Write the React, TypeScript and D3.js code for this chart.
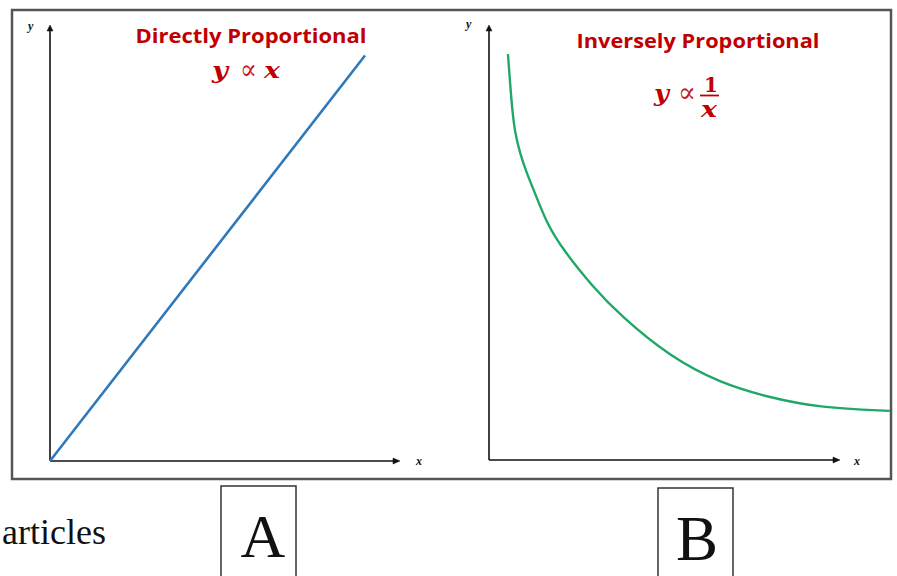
import React from 'react';
import * as d3 from 'd3';

// values (both panels use a 0..100 unit space)
const directX = [0, 90];
const directY = [0, 93];

const inverseX = [5.4, 6.5, 7.4, 8.8, 10.7, 13.1, 16.4, 21.1, 29.6, 37.3, 51.6, 65.8, 80.1, 94.3, 114.2];
const inverseY = [93.3, 81.2, 75.2, 70.6, 66.0, 61.4, 54.5, 48.3, 39.8, 33.3, 23.7, 17.7, 14.3, 12.0, 11.3];

const titles = ['Directly Proportional', 'Inversely Proportional'];
const boxLabels = ['A', 'B'];

const W = 897, H = 576;
const frame = { x: 12, y: 10, w: 879, h: 469 };
const red = '#c00000';

export default function App() {
  // left panel scales
  const xA = d3.scaleLinear().domain([0, 100]).range([50, 400]);
  const yA = d3.scaleLinear().domain([0, 100]).range([461, 25]);
  // right panel scales
  const xB = d3.scaleLinear().domain([0, 100]).range([489, 840]);
  const yB = d3.scaleLinear().domain([0, 100]).range([460, 25]);

  const lineA = d3.line<number>()
    .x((d) => xA(d))
    .y((_, i) => yA(directY[i]));
  const lineB = d3.line<number>()
    .x((d) => xB(d))
    .y((_, i) => yB(inverseY[i]))
    .curve(d3.curveBasis);

  const axes = (x: d3.ScaleLinear<number, number>, y: d3.ScaleLinear<number, number>, key: string) => (
    <g key={key} stroke="#111" strokeWidth={1.6}>
      <line x1={x(0)} y1={y(0)} x2={x(0)} y2={y(100) + 4} />
      <line x1={x(0)} y1={y(0)} x2={x(100) - 4} y2={y(0)} />
      <path d={`M${x(0)},${y(100)} l-3,6 l6,0 z`} fill="#111" strokeWidth={0.5} />
      <path d={`M${x(100)},${y(0)} l-7,-3 l0,6 z`} fill="#111" strokeWidth={0.5} />
    </g>
  );

  const mathFont = '"DejaVu Serif", "Liberation Serif", serif';
  const propFont = '"DejaVu Serif", serif';

  return (
    <svg width={W} height={H} style={{ position: 'absolute', left: 0, top: 0, background: '#fff' }}>
      <defs>
        <clipPath id="frameClip">
          <rect x={frame.x} y={frame.y} width={frame.w} height={frame.h} />
        </clipPath>
      </defs>
      <rect x={0} y={0} width={W} height={H} fill="#fff" />

      {/* outer frame */}
      <rect x={frame.x} y={frame.y} width={frame.w} height={frame.h}
        fill="none" stroke="#555" strokeWidth={2.5} />

      {axes(xA, yA, 'a')}
      {axes(xB, yB, 'b')}

      {/* axis letters */}
      <g fontFamily='"Liberation Serif", serif' fontStyle="italic" fontWeight="bold" fontSize={12} fill="#111">
        <text x={28} y={30}>y</text>
        <text x={416} y={465}>x</text>
        <text x={466} y={28}>y</text>
        <text x={854} y={465}>x</text>
      </g>

      {/* data lines */}
      <path d={lineA(directX) || ''} fill="none" stroke="#2e79b9" strokeWidth={2.6} />
      <g clipPath="url(#frameClip)">
        <path d={lineB(inverseX) || ''} fill="none" stroke="#1fa866" strokeWidth={2.4} />
      </g>

      {/* titles */}
      <g fontFamily='"Open Sans", "Liberation Sans", sans-serif' fontWeight="bold" fontSize={20} fill={red}>
        <text x={251} y={43} textAnchor="middle" textLength={231} lengthAdjust="spacingAndGlyphs">{titles[0]}</text>
        <text x={698} y={48} textAnchor="middle" textLength={243} lengthAdjust="spacingAndGlyphs">{titles[1]}</text>
      </g>

      {/* formulas */}
      <g fill={red}>
        <g fontFamily={mathFont} fontWeight="bold" fontStyle="italic" fontSize={22}>
          <text x={212} y={78} textLength={16} lengthAdjust="spacingAndGlyphs">y</text>
          <text x={264} y={78} textLength={16} lengthAdjust="spacingAndGlyphs">x</text>
          <text x={654} y={101} textLength={15} lengthAdjust="spacingAndGlyphs">y</text>
          <text x={701} y={117} textLength={16} lengthAdjust="spacingAndGlyphs">x</text>
        </g>
        <g fontFamily={propFont} fontSize={28} fillOpacity={0.9}>
          <text x={240} y={79} textLength={17} lengthAdjust="spacingAndGlyphs">∝</text>
          <text x={678} y={102} textLength={18} lengthAdjust="spacingAndGlyphs">∝</text>
        </g>
        <text x={711} y={92} textAnchor="middle" fontFamily={mathFont} fontWeight="bold" fontSize={20}>1</text>
        <line x1={700} x2={719} y1={95.5} y2={95.5} stroke={red} strokeWidth={1.8} />
      </g>

      {/* text below the chart */}
      <text x={2} y={544} fontFamily='"Liberation Serif", serif' fontSize={36} fill="#111">articles</text>

      <rect x={221} y={486} width={75} height={100} fill="none" stroke="#333" strokeWidth={1.5} />
      <text x={263} y={557} textAnchor="middle" fontFamily='"Liberation Serif", serif' fontSize={62} fill="#111">{boxLabels[0]}</text>

      <rect x={658} y={488} width={75} height={100} fill="none" stroke="#333" strokeWidth={1.5} />
      <text x={697} y={560} textAnchor="middle" fontFamily='"Liberation Serif", serif' fontSize={63} fill="#111">{boxLabels[1]}</text>
    </svg>
  );
}
